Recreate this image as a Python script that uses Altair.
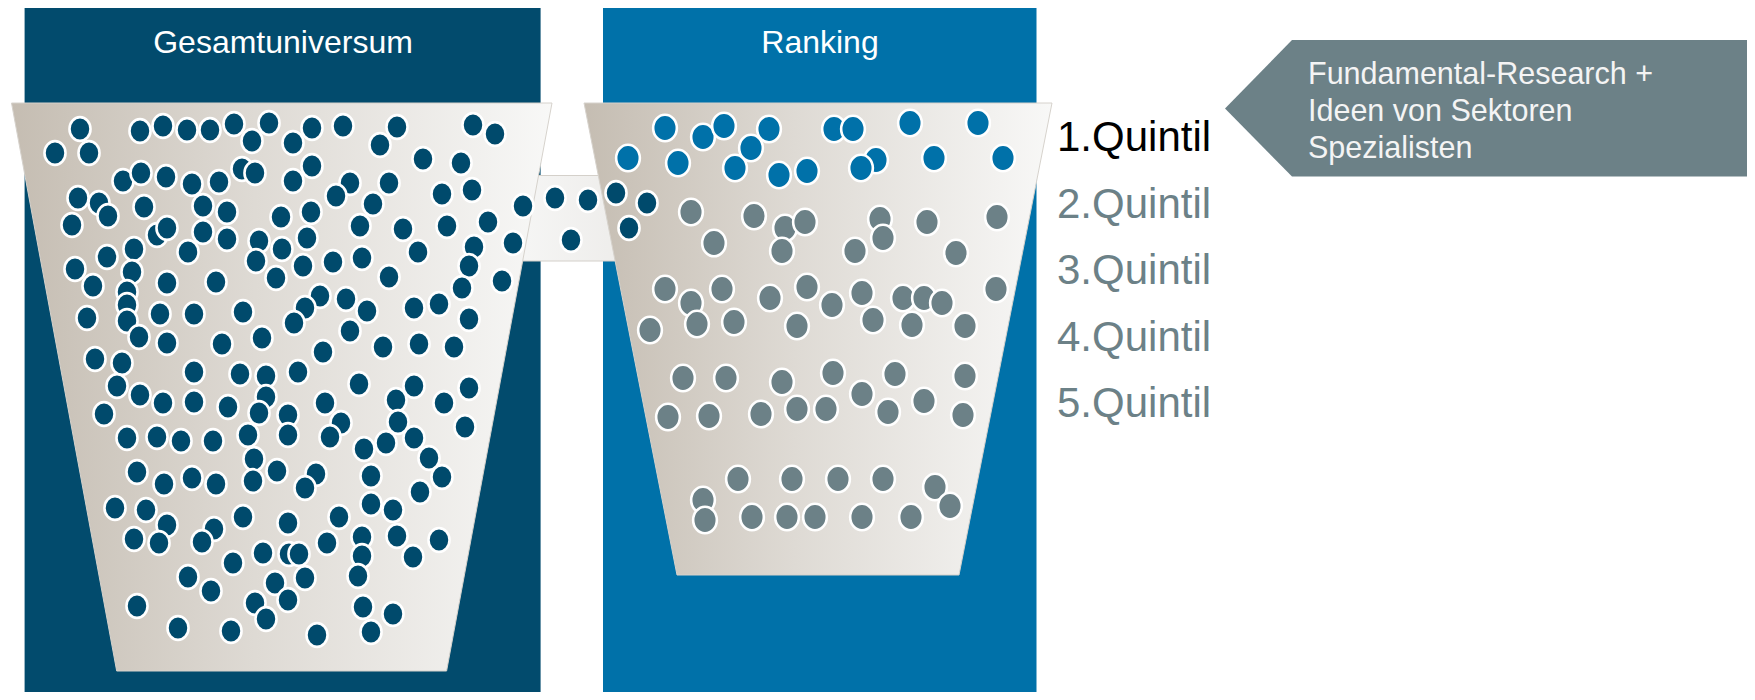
import altair as alt
import pandas as pd

# ---------------- data ----------------
PANEL_NAMES = ["Gesamtuniversum", "Ranking"]
PANEL_X0 = [24.6, 603]
PANEL_X1 = [540.6, 1036.5]
PANEL_Y0 = [7, 7]
PANEL_Y1 = [692, 692]
PANEL_COLORS = ["#024B6D", "#0071A9"]
HEADER_X = [283, 820]
HEADER_Y = [53, 53]

# funnels (y, left edge x, right edge x)
F1_Y = [103, 671]
F1_XL = [11.5, 116.7]
F1_XR = [552, 446.6]
F2_Y = [103, 575]
F2_XL = [584, 677]
F2_XR = [1052, 959]
PIPE_X = [515, 620]
PIPE_Y = [175.5, 261]

# arrow box
ARROW_Y = [40, 108.5, 176.5]
ARROW_XL = [1292, 1225, 1292]
ARROW_XR = [1750, 1750, 1750]
ARROW_LINES = ["Fundamental-Research +", "Ideen von Sektoren", "Spezialisten"]
ARROW_TX = [1308, 1308, 1308]
ARROW_TY = [83.5, 120.5, 157.5]

QUINTIL_LABELS = ["1.Quintil", "2.Quintil", "3.Quintil", "4.Quintil", "5.Quintil"]
QUINTIL_X = [1057, 1057, 1057, 1057, 1057]
QUINTIL_Y = [151, 217.5, 284, 350.5, 417]
QUINTIL_COLORS = ["#000000", "#6C8187", "#6C8187", "#6C8187", "#6C8187"]

# universe dots (dark)
DARK_X = [80, 55, 89, 140, 163, 187, 210, 234, 252, 269, 123, 141, 166, 192, 219, 242, 255,
          78, 99, 108, 72, 144, 203, 227, 157, 167, 203, 227, 188, 281, 259, 256, 282, 276,
          134, 107, 75, 93, 132, 127, 127, 127, 139, 167, 216, 87, 160, 194, 243, 167, 222, 262,
          95, 122, 194, 240, 266,
          293, 312, 343, 380, 397, 473, 495, 423, 461, 312, 293, 350, 336, 389, 373, 442, 472,
          311, 360, 403, 447, 488, 307, 303, 333, 362, 418, 474, 469, 389, 462, 502, 320, 305,
          294, 346, 367, 350, 414, 439, 469, 323, 383, 419, 454, 298, 523, 513,
          117, 140, 163, 194, 228, 266, 259, 288, 104, 127, 157, 181, 213, 248, 288, 254, 277,
          137, 164, 192, 216, 253, 115, 146, 167, 134, 159, 214, 202, 243, 288, 263, 289, 233,
          188, 211, 275, 255, 266, 288, 137, 178, 231,
          359, 414, 469, 325, 341, 330, 396, 398, 444, 465, 364, 386, 414, 429, 316, 305, 371,
          442, 420, 371, 393, 339, 327, 362, 362, 397, 439, 413, 299, 305, 358, 363, 393, 371, 317,
          555, 588, 571, 616, 647, 629]
DARK_Y = [129, 153, 153, 131, 126, 130, 130, 124, 141, 123, 181, 173, 177, 184, 182, 169, 173,
          198, 203, 216, 225, 207, 206, 212, 235, 228, 232, 239, 252, 217, 241, 261, 249, 278,
          249, 257, 269, 286, 272, 292, 305, 321, 337, 283, 282, 318, 314, 314, 312, 343, 344, 338,
          359, 363, 372, 374, 376,
          143, 128, 126, 145, 127, 125, 134, 159, 163, 166, 181, 183, 196, 183, 204, 194, 190,
          212, 226, 229, 226, 222, 238, 266, 262, 258, 252, 247, 266, 277, 288, 281, 296, 308,
          323, 299, 311, 331, 308, 304, 319, 352, 347, 344, 347, 372, 206, 243,
          386, 395, 403, 402, 407, 397, 413, 415, 414, 438, 437, 441, 441, 435, 435, 459, 471,
          472, 484, 478, 484, 481, 508, 510, 525, 539, 543, 529, 542, 517, 523, 553, 554, 563,
          577, 591, 583, 603, 619, 600, 606, 628, 631,
          384, 386, 388, 403, 423, 437, 400, 422, 403, 427, 449, 443, 438, 458, 474, 488, 476,
          477, 492, 504, 510, 517, 543, 537, 556, 536, 540, 557, 554, 578, 576, 607, 614, 632, 635,
          198, 200, 240, 193, 203, 228]

# ranking: 1st quintile (blue)
BLUE_X = [665, 703, 724, 769, 751, 628, 678, 735, 779, 807, 834, 853, 910, 978, 876, 861, 934, 1003]
BLUE_Y = [128, 137, 126, 129, 148, 158, 163, 168, 175, 171, 129, 129, 123, 123, 160, 168, 158, 158]

# ranking: other quintiles (gray)
GRAY_X = [691, 714, 754, 785, 805, 782, 855, 880, 883, 927, 956, 997,
          665, 691, 722, 770, 807, 832, 862, 903, 924, 942, 996,
          650, 697, 734, 797, 873, 912, 965,
          683, 726, 782, 833, 862, 895, 924, 965, 668, 709, 761, 797, 826, 888, 963,
          738, 792, 838, 883, 935, 950, 703, 705, 752, 787, 815, 862, 911]
GRAY_Y = [212, 243, 216, 228, 222, 251, 251, 219, 238, 222, 253, 217,
          289, 303, 289, 298, 287, 305, 293, 298, 298, 303, 289,
          330, 324, 322, 326, 320, 325, 326,
          378, 378, 382, 373, 394, 374, 401, 376, 417, 416, 414, 409, 409, 412, 415,
          479, 479, 479, 479, 487, 506, 500, 520, 517, 517, 517, 517, 517]

# ---------------- helpers ----------------
XS = alt.Scale(domain=[8, 1747], nice=False, zero=False)
YS = alt.Scale(domain=[8, 692], nice=False, zero=False, reverse=True)


def X(f):
    return alt.X(f, type="quantitative", scale=XS, axis=None, stack=None)


def Y(f):
    return alt.Y(f, type="quantitative", scale=YS, axis=None, stack=None)


def grad(stops):
    return alt.Gradient(gradient="linear",
                        stops=[alt.GradientStop(color=c, offset=o) for o, c in stops],
                        x1=0, x2=1, y1=0, y2=0)


FUNNEL_GRAD = grad([(0, "#C5BDB2"), (0.45, "#DEDAD4"), (1, "#F8F8F7")])
PIPE_GRAD = grad([(0, "#F6F6F5"), (1, "#EEEDEB")])

K = 0.5523
RX = 0.89
ELLIPSE = (f"M0,-1 C{K*RX:.4f},-1 {RX},-{K} {RX},0 C{RX},{K} {K*RX:.4f},1 0,1 "
           f"C-{K*RX:.4f},1 -{RX},{K} -{RX},0 C-{RX},-{K} -{K*RX:.4f},-1 0,-1 Z")

panels = pd.DataFrame({"name": PANEL_NAMES, "x0": PANEL_X0, "x1": PANEL_X1,
                       "y0": PANEL_Y0, "y1": PANEL_Y1, "c": PANEL_COLORS,
                       "hx": HEADER_X, "hy": HEADER_Y})
f1 = pd.DataFrame({"y": F1_Y, "xl": F1_XL, "xr": F1_XR})
f2 = pd.DataFrame({"y": F2_Y, "xl": F2_XL, "xr": F2_XR})
pipe = pd.DataFrame({"x0": [PIPE_X[0]], "x1": [PIPE_X[1]], "y0": [PIPE_Y[0]], "y1": [PIPE_Y[1]]})
arrow = pd.DataFrame({"y": ARROW_Y, "xl": ARROW_XL, "xr": ARROW_XR})
arrow_txt = pd.DataFrame({"t": ARROW_LINES, "x": ARROW_TX, "y": ARROW_TY})
quint = pd.DataFrame({"t": QUINTIL_LABELS, "x": QUINTIL_X, "y": QUINTIL_Y, "c": QUINTIL_COLORS})
dark = pd.DataFrame({"x": DARK_X, "y": DARK_Y})
blue = pd.DataFrame({"x": BLUE_X, "y": BLUE_Y})
gray = pd.DataFrame({"x": GRAY_X, "y": GRAY_Y})

FONT = "Liberation Sans"

panel_layer = alt.Chart(panels).mark_rect().encode(
    x=X("x0"), x2="x1", y=Y("y0"), y2="y1",
    color=alt.Color("c:N", scale=None))

header_layer = alt.Chart(panels).mark_text(
    font=FONT, fontSize=32, color="white", align="center", baseline="alphabetic"
).encode(x=X("hx"), y=Y("hy"), text="name:N")

pipe_layer = alt.Chart(pipe).mark_rect(color=PIPE_GRAD, stroke="#D4D0CA", strokeWidth=1).encode(
    x=X("x0"), x2="x1", y=Y("y0"), y2="y1")


def funnel(df):
    return alt.Chart(df).mark_area(orient="horizontal", color=FUNNEL_GRAD,
                                   stroke="#D6D2CC", strokeWidth=1).encode(
        y=Y("y"), x=X("xl"), x2="xr")


def dots(df, color, size):
    return alt.Chart(df).mark_point(shape=ELLIPSE, filled=True, size=size, color=color,
                                    opacity=1, stroke="white", strokeWidth=2.6,
                                    strokeOpacity=1).encode(x=X("x"), y=Y("y"))


arrow_layer = alt.Chart(arrow).mark_area(orient="horizontal", color="#6C8187").encode(
    y=Y("y"), x=X("xl"), x2="xr")

arrow_text = alt.Chart(arrow_txt).mark_text(
    font=FONT, fontSize=30.5, color="#F4F4F4", align="left", baseline="alphabetic"
).encode(x=X("x"), y=Y("y"), text="t:N")

quint_text = alt.Chart(quint).mark_text(
    font=FONT, fontSize=42, align="left", baseline="alphabetic"
).encode(x=X("x"), y=Y("y"), text="t:N", color=alt.Color("c:N", scale=None))

chart = alt.layer(
    panel_layer, header_layer, pipe_layer, funnel(f1), funnel(f2),
    dots(dark, "#004A6C", 560), dots(blue, "#0071A9", 710), dots(gray, "#6C8187", 710),
    arrow_layer, arrow_text, quint_text
).properties(width=1739, height=684, padding=0, autosize="none", background="white"
).configure_view(stroke=None)

chart.save("out.html", embed_options={"renderer": "svg", "actions": False})
